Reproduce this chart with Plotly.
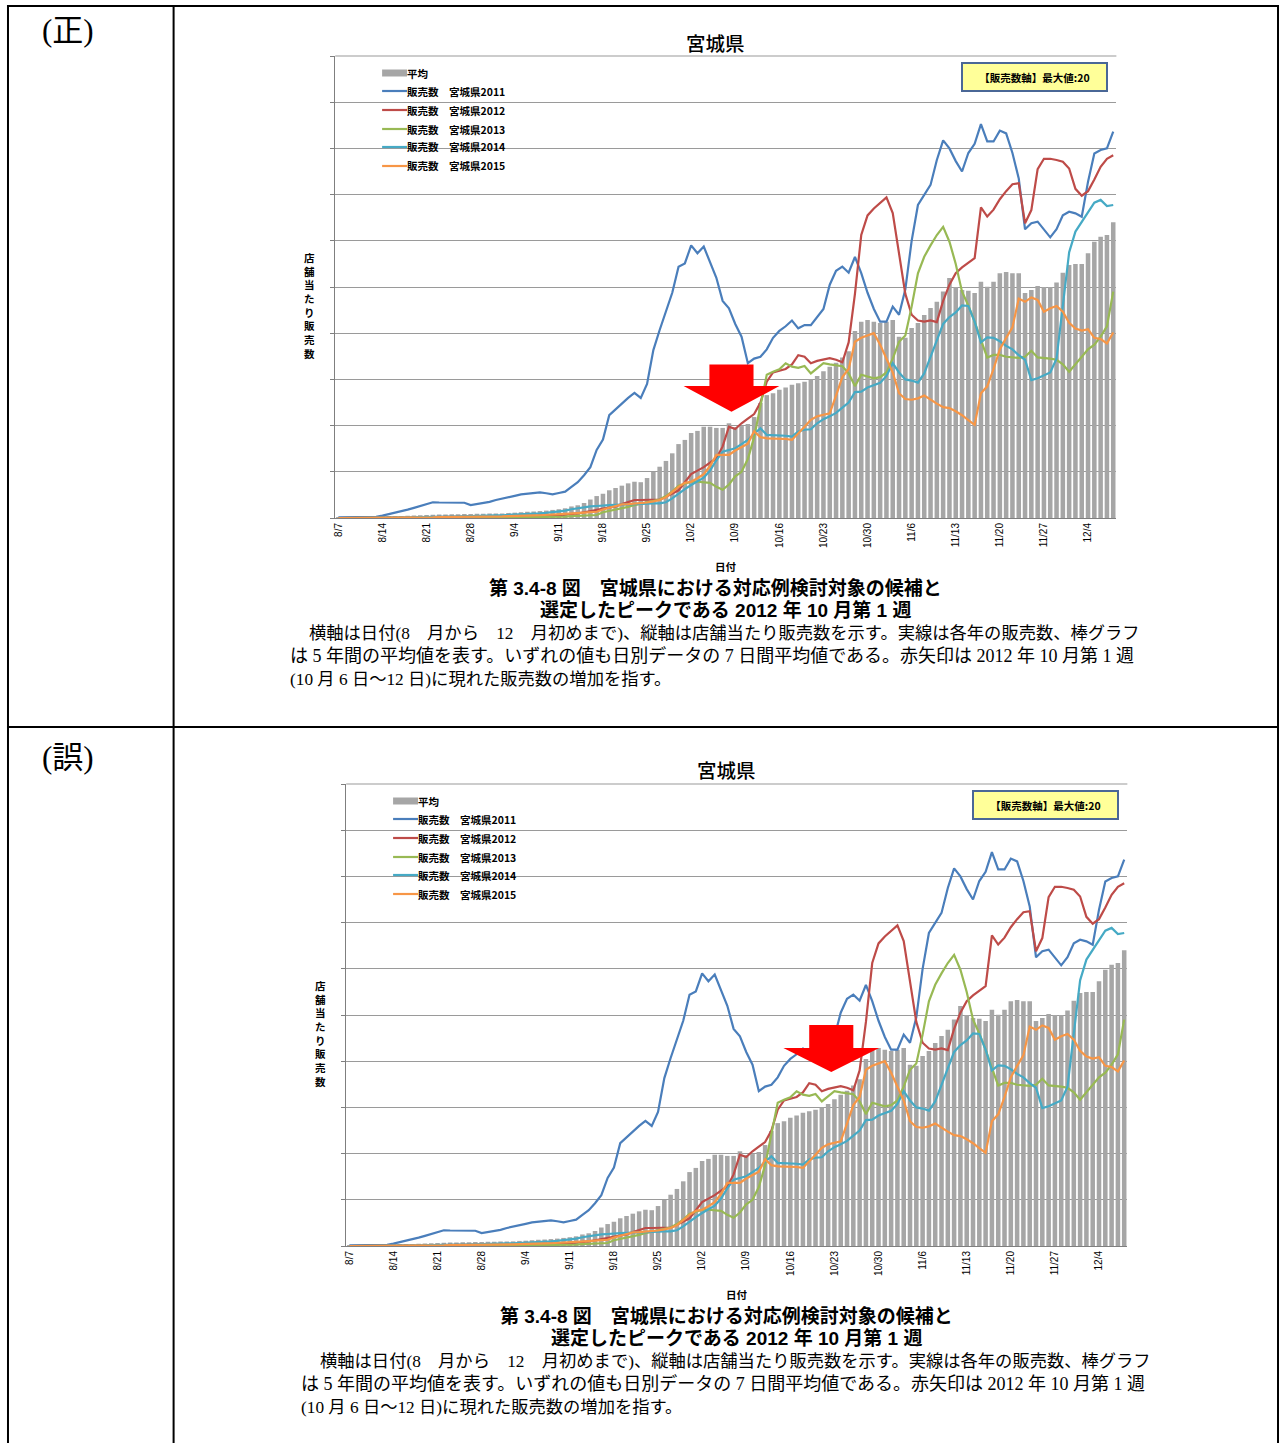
import pandas as pd
import plotly.graph_objects as go

W, H = 1280, 1443

# ---------------- data ----------------
dates = [f"{d.month}/{d.day}" for d in pd.date_range("2015-08-07", "2015-12-08")]
days = list(range(len(dates)))
tick_idx = days[::7]
tick_text = [dates[i] for i in tick_idx]

avg = [0.02,0.03,0.03,0.04,0.04,0.05,0.05,
       0.06,0.07,0.08,0.09,0.10,0.11,0.12,
       0.13,0.14,0.15,0.15,0.16,0.16,0.17,
       0.17,0.18,0.18,0.19,0.20,0.20,0.22,
       0.23,0.25,0.27,0.28,0.30,0.32,0.35,
       0.38,0.42,0.50,0.55,0.65,0.80,0.95,
       1.05,1.20,1.30,1.40,1.50,1.57,1.55,
       1.73,2.00,2.22,2.47,2.80,3.20,3.38,
       3.68,3.77,3.95,3.95,3.90,3.90,4.10,
       3.93,3.98,4.07,4.37,4.98,5.32,5.40,
       5.55,5.65,5.77,5.83,5.90,6.00,6.15,
       6.35,6.55,6.72,6.95,7.22,8.10,8.50,
       8.57,8.50,8.44,8.50,8.57,7.85,7.80,
       8.22,8.44,8.79,9.09,9.36,9.80,10.39,
       10.00,9.87,9.84,9.74,10.23,10.01,10.23,
       10.60,10.65,10.60,10.60,9.74,9.87,10.04,
       10.00,10.00,10.20,10.62,10.95,11.00,11.00,
       11.46,11.96,12.18,12.25,12.80]

s2011 = [0.03,0.03,0.03,0.03,0.03,0.03,0.05,
         0.10,0.16,0.22,0.30,0.36,0.44,0.52,
         0.60,0.68,0.67,0.67,0.66,0.65,0.66,
         0.56,0.60,0.63,0.70,0.78,0.85,0.90,
         0.96,1.02,1.06,1.10,1.11,1.07,1.02,
         1.08,1.14,1.35,1.55,1.85,2.20,2.95,
         3.40,4.45,4.70,4.98,5.20,5.42,5.20,
         5.80,7.27,8.14,8.90,9.75,10.88,11.02,
         11.80,11.46,11.75,11.10,10.40,9.40,9.08,
         8.40,7.85,6.70,6.90,6.98,7.30,7.80,
         8.10,8.30,8.55,8.21,8.35,8.35,8.70,
         9.05,10.10,10.70,10.88,10.62,11.30,10.60,
         9.75,9.05,8.50,8.50,9.15,8.80,9.90,
         12.00,13.55,13.98,14.42,15.50,16.35,16.00,
         15.45,15.00,15.80,16.20,17.05,16.30,16.30,
         16.77,16.65,15.80,14.70,12.50,12.76,12.83,
         12.47,12.15,12.50,13.10,13.26,13.19,13.04,
         14.56,15.78,15.93,16.00,16.73]

s2012 = [0.00,0.00,0.00,0.00,0.00,0.01,0.01,
         0.01,0.02,0.02,0.02,0.03,0.03,0.03,
         0.04,0.04,0.04,0.05,0.05,0.05,0.05,
         0.05,0.06,0.06,0.06,0.07,0.07,0.07,
         0.08,0.08,0.08,0.09,0.10,0.10,0.11,
         0.12,0.14,0.16,0.20,0.25,0.30,0.35,
         0.40,0.45,0.50,0.60,0.70,0.78,0.78,
         0.78,0.78,0.80,0.92,1.05,1.20,1.55,
         1.90,2.05,2.20,2.40,2.58,3.10,3.95,
         3.85,4.10,4.30,4.50,5.00,5.90,6.30,
         6.38,6.45,6.65,7.05,6.98,6.70,6.80,
         6.86,6.92,6.85,6.74,7.60,9.70,12.25,
         13.10,13.40,13.65,13.88,13.20,11.40,9.70,
         8.80,8.55,8.50,8.55,8.48,9.40,10.10,
         10.60,10.85,11.05,11.25,13.45,13.05,13.35,
         13.80,14.15,14.45,14.49,12.76,13.33,15.10,
         15.55,15.55,15.50,15.42,15.13,14.25,13.95,
         14.15,14.65,15.20,15.55,15.70]

s2013 = [0.00,0.00,0.00,0.00,0.00,0.00,0.00,
         0.00,0.00,0.00,0.00,0.00,0.01,0.01,
         0.01,0.01,0.01,0.01,0.01,0.02,0.02,
         0.02,0.02,0.02,0.02,0.03,0.03,0.03,
         0.03,0.03,0.04,0.04,0.04,0.05,0.05,
         0.05,0.06,0.08,0.09,0.10,0.12,0.13,
         0.25,0.30,0.35,0.40,0.48,0.56,0.62,
         0.68,0.72,0.80,0.95,1.15,1.40,1.50,
         1.57,1.57,1.56,1.52,1.35,1.22,1.45,
         1.80,2.00,2.55,3.50,4.90,6.20,6.33,
         6.44,6.70,6.55,6.50,6.58,6.26,6.48,
         6.70,6.65,6.62,6.57,6.26,5.71,6.20,
         6.12,6.05,6.10,6.30,6.90,7.63,7.90,
         9.15,10.59,11.31,11.80,12.25,12.60,11.96,
         11.00,9.80,9.20,8.50,7.70,6.95,7.06,
         7.06,6.98,6.95,6.93,6.98,7.24,6.95,
         6.93,6.90,6.85,6.65,6.33,6.65,7.00,
         7.30,7.50,7.85,8.30,9.80]

s2014 = [0.00,0.00,0.00,0.00,0.00,0.01,0.01,
         0.01,0.02,0.02,0.02,0.03,0.03,0.04,
         0.04,0.05,0.05,0.06,0.06,0.07,0.07,
         0.08,0.08,0.09,0.10,0.11,0.12,0.13,
         0.14,0.14,0.15,0.18,0.20,0.22,0.25,
         0.28,0.32,0.38,0.43,0.48,0.50,0.52,
         0.55,0.56,0.57,0.58,0.60,0.63,0.63,
         0.63,0.63,0.63,0.68,0.85,1.07,1.25,
         1.43,1.60,1.75,2.05,2.50,2.87,2.95,
         3.02,3.20,3.38,3.65,3.88,3.60,3.59,
         3.59,3.56,3.52,3.75,3.82,3.84,4.10,
         4.28,4.40,4.55,4.78,5.00,5.45,5.47,
         5.65,5.75,5.85,6.15,6.70,6.30,6.00,
         5.95,5.86,6.26,6.95,7.70,8.40,8.70,
         8.90,9.20,9.18,8.50,7.60,7.82,7.80,
         7.65,7.45,7.30,7.05,6.85,5.97,6.05,
         6.19,6.30,6.90,9.30,11.50,12.40,12.80,
         13.20,13.65,13.77,13.50,13.55]

s2015 = [0.00,0.00,0.00,0.00,0.01,0.01,0.01,
         0.01,0.02,0.02,0.02,0.02,0.03,0.03,
         0.03,0.03,0.04,0.04,0.04,0.05,0.05,
         0.05,0.05,0.06,0.06,0.07,0.07,0.08,
         0.08,0.09,0.10,0.11,0.12,0.13,0.14,
         0.15,0.17,0.19,0.21,0.23,0.25,0.27,
         0.37,0.45,0.52,0.59,0.60,0.62,0.63,
         0.67,0.72,0.78,0.90,1.14,1.35,1.52,
         1.57,1.72,1.90,2.25,2.73,2.73,2.73,
         2.92,3.08,3.22,3.75,3.50,3.45,3.45,
         3.45,3.42,3.38,3.65,3.95,4.25,4.40,
         4.47,4.53,5.30,6.10,6.45,7.63,7.80,
         7.90,8.00,7.50,6.90,6.30,5.40,5.15,
         5.12,5.18,5.30,5.12,4.95,4.80,4.76,
         4.62,4.45,4.24,4.03,5.40,5.70,6.45,
         7.30,7.80,8.25,9.50,9.36,9.55,9.44,
         8.93,9.08,9.18,8.93,8.45,8.20,8.11,
         8.17,7.80,7.75,7.56,8.03]

series_names = ["販売数　宮城県2011", "販売数　宮城県2012", "販売数　宮城県2013",
                "販売数　宮城県2014", "販売数　宮城県2015"]
series_values = [s2011, s2012, s2013, s2014, s2015]
avg_name = "平均"

# arrow geometry in data units: (center day, rect half width, head half width, top, head base, tip)
arrow_ok = (62.4, 3.5, 7.6, 6.65, 5.71, 4.60)
arrow_ng = (76.5, 3.5, 7.6, 9.57, 8.57, 7.53)

panel_labels = ["(正)", "(誤)"]
chart_title = "宮城県"
ylabel = "店舗当たり販売数"
xlabel = "日付"
axis_note = "【販売数軸】最大値:20"
cap_title1 = "第 3.4-8 図　宮城県における対応例検討対象の候補と"
cap_title2 = "選定したピークである 2012 年 10 月第 1 週"
NB = "\u00a0"
cap_body = ["横軸は日付(8　月から　12　月初めまで)、縦軸は店舗当たり販売数を示す。実線は各年の販売数、棒グラフ",
            f"は{NB}5{NB}年間の平均値を表す。いずれの値も日別データの{NB}7{NB}日間平均値である。"
            f"赤矢印は{NB}2012{NB}年{NB}10{NB}月第{NB}1{NB}週",
            "(10 月 6 日～12 日)に現れた販売数の増加を指す。"]
cap_body_size = [17.3, 18.0, 17.3]

# ---------------- style ----------------
BAR_COLOR = "#A6A6A6"
LINE_COLORS = ["#4A7EBB", "#BE4B48", "#98B954", "#46AAC5", "#F79646"]
JP = "Noto Sans CJK JP"
SERIF = "Liberation Serif, Noto Sans CJK JP"
SANS = "Liberation Sans, Noto Sans CJK JP"


def px(x):
    return x / W


def py(y):
    return 1 - y / H


fig = go.Figure()
annotations = []
shapes = []

# table borders
tb = dict(type="line", xref="paper", yref="paper", line=dict(color="black", width=2))
shapes.append(dict(tb, x0=px(4), x1=px(1279), y0=py(6), y1=py(6)))
shapes.append(dict(tb, x0=px(4), x1=px(1279), y0=py(727), y1=py(727)))
shapes.append(dict(tb, x0=px(5), x1=px(5), y0=py(5), y1=py(1443)))
shapes.append(dict(tb, x0=px(171), x1=px(171), y0=py(5), y1=py(1443)))
shapes.append(dict(tb, x0=px(1278), x1=px(1278), y0=py(5), y1=py(1443)))

layout_axes = {}

for k, (dx, dy, arrow, plabel) in enumerate([(0, 0, arrow_ok, panel_labels[0]),
                                              (11, 728, arrow_ng, panel_labels[1])]):
    sfx = "" if k == 0 else str(k + 1)
    xa, ya = "x" + sfx, "y" + sfx
    left, right, top, bottom = 333 + dx, 1116 + dx, 56 + dy, 518 + dy

    fig.add_trace(go.Bar(x=days, y=avg, name=avg_name, marker_color=BAR_COLOR,
                         marker_line_width=0, xaxis=xa, yaxis=ya, showlegend=False))
    for name, vals, col in zip(series_names, series_values, LINE_COLORS):
        fig.add_trace(go.Scatter(x=days, y=vals, name=name, mode="lines",
                                 line=dict(color=col, width=2.2), xaxis=xa, yaxis=ya,
                                 showlegend=False))

    layout_axes["xaxis" + sfx] = dict(
        domain=[px(left), px(right)], anchor=ya, range=[-0.5, len(days) - 0.5],
        tickmode="array", tickvals=tick_idx, ticktext=tick_text, tickangle=-90,
        tickfont=dict(family=SANS, size=10, color="black"), showgrid=False,
        showline=True, linecolor="#7F7F7F", linewidth=1, ticks="", zeroline=False)
    layout_axes["yaxis" + sfx] = dict(
        domain=[py(bottom), py(top)], anchor=xa, range=[0, 20], dtick=2,
        showticklabels=False, showgrid=True, gridcolor="#9A9A9A", gridwidth=1.2,
        showline=True, linecolor="#7F7F7F", linewidth=1, ticks="outside", ticklen=4,
        tickcolor="#7F7F7F", zeroline=False)

    # top border line at max
    shapes.append(dict(type="line", xref="paper", yref="paper", x0=px(left), x1=px(right),
                       y0=py(top), y1=py(top), line=dict(color="#9A9A9A", width=1.2)))

    # red arrow
    c, rw, hw, t, b, tip = arrow
    path = (f"M {c - rw},{t} L {c + rw},{t} L {c + rw},{b} L {c + hw},{b} "
            f"L {c},{tip} L {c - hw},{b} L {c - rw},{b} Z")
    shapes.append(dict(type="path", xref=xa, yref=ya, path=path,
                       fillcolor="#FF0000", line=dict(width=0)))

    # panel label
    annotations.append(dict(text=plabel, x=px(37), y=py(30 + dy), xref="paper", yref="paper",
                            xanchor="left", yanchor="middle", showarrow=False,
                            font=dict(family=SERIF, size=31, color="black")))
    # chart title
    annotations.append(dict(text=chart_title, x=px(714 + dx), y=py(42 + dy), xref="paper",
                            yref="paper", xanchor="center", yanchor="middle", showarrow=False,
                            font=dict(family=JP, size=19.5, color="black", weight=500)))
    # y label (vertical stacked)
    annotations.append(dict(text="<br>".join(list(ylabel)), x=px(307 + dx), y=py(305 + dy),
                            xref="paper", yref="paper", xanchor="center", yanchor="middle",
                            showarrow=False,
                            font=dict(family=JP, size=10.5, color="black", weight="bold")))
    # x label
    annotations.append(dict(text=xlabel, x=px(725 + dx), y=py(566 + dy), xref="paper",
                            yref="paper", xanchor="center", yanchor="middle", showarrow=False,
                            font=dict(family=JP, size=10.5, color="black", weight="bold")))
    # axis note box
    annotations.append(dict(text=axis_note, x=px(1034 + dx), y=py(77 + dy), xref="paper",
                            yref="paper", xanchor="center", yanchor="middle", showarrow=False,
                            font=dict(family=JP, size=10.5, color="black", weight="bold"),
                            bgcolor="#FFFF99", bordercolor="#4A6796", borderwidth=2,
                            borderpad=5, width=133, height=16))

    # legend (manual)
    lx0, lx1 = 380 + dx, 405 + dx
    rows = [73, 91, 110, 129, 147, 166]
    shapes.append(dict(type="rect", xref="paper", yref="paper", x0=px(lx0), x1=px(lx1),
                       y0=py(rows[0] + 3.5 + dy), y1=py(rows[0] - 3.5 + dy),
                       fillcolor=BAR_COLOR, line=dict(width=0)))
    annotations.append(dict(text=avg_name, x=px(lx1 - 2), y=py(rows[0] + dy), xref="paper",
                            yref="paper", xanchor="left", yanchor="middle", showarrow=False,
                            font=dict(family=JP, size=10.5, color="black", weight="bold")))
    for r, name, col in zip(rows[1:], series_names, LINE_COLORS):
        shapes.append(dict(type="line", xref="paper", yref="paper", x0=px(lx0), x1=px(lx1),
                           y0=py(r + dy), y1=py(r + dy), line=dict(color=col, width=2.2)))
        annotations.append(dict(text=name, x=px(lx1 - 2), y=py(r + dy), xref="paper",
                                yref="paper", xanchor="left", yanchor="middle",
                                showarrow=False,
                                font=dict(family=JP, size=10.5, color="black", weight="bold")))

    # caption
    annotations.append(dict(text=cap_title1, x=px(714 + dx), y=py(588 + dy), xref="paper",
                            yref="paper", xanchor="center", yanchor="middle", showarrow=False,
                            font=dict(family=SANS, size=19, color="black", weight="bold")))
    annotations.append(dict(text=cap_title2, x=px(724 + dx), y=py(610 + dy), xref="paper",
                            yref="paper", xanchor="center", yanchor="middle", showarrow=False,
                            font=dict(family=SANS, size=19, color="black", weight="bold")))
    for i, (line, lx, fs) in enumerate(zip(cap_body, [305, 286, 286], cap_body_size)):
        annotations.append(dict(text=line, x=px(lx + dx), y=py(633 + 23 * i + dy),
                                xref="paper", yref="paper", xanchor="left", yanchor="middle",
                                showarrow=False,
                                font=dict(family=SERIF, size=fs, color="black")))

fig.update_layout(
    width=W, height=H, margin=dict(l=0, r=0, t=0, b=0),
    paper_bgcolor="white", plot_bgcolor="white", bargap=0.28,
    showlegend=False, annotations=annotations, shapes=shapes,
    font=dict(family=JP), **layout_axes)

fig.write_html("out.html", config={"displayModeBar": False},
               post_script="document.body.style.margin='0';document.body.style.overflow='hidden';")
